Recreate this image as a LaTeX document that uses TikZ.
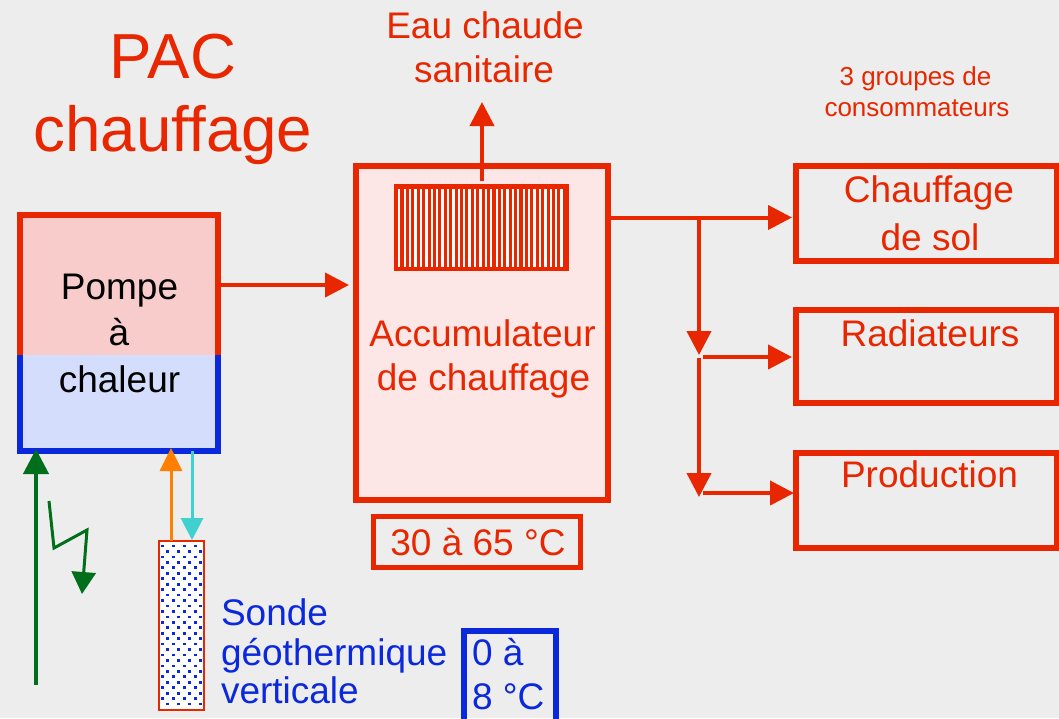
\documentclass[tikz,border=0pt]{standalone}
\usepackage{fontspec}
\setmainfont{Liberation Sans}
\usetikzlibrary{arrows.meta,fit}
\definecolor{pacred}{RGB}{232,38,0}
\definecolor{bgray}{RGB}{237,237,237}
\definecolor{pinkA}{RGB}{249,204,204}
\definecolor{blueA}{RGB}{212,222,252}
\definecolor{pacblue}{RGB}{10,40,220}
\definecolor{accpink}{RGB}{252,230,230}
\definecolor{pacgreen}{RGB}{0,110,26}
\definecolor{pacorange}{RGB}{255,127,0}
\definecolor{paccyan}{RGB}{64,208,208}
\tikzset{
  txt/.style={font=\fontsize{27.75}{33}\selectfont, inner sep=0pt, outer sep=0pt, anchor=base},
  redtxt/.style={txt, text=pacred},
  bluetxt/.style={txt, text=pacblue, anchor=base west},
  smalltxt/.style={font=\fontsize{19.5}{23}\selectfont, inner sep=0pt, outer sep=0pt, anchor=base, text=pacred},
  titletxt/.style={font=\fontsize{47.75}{52}\selectfont, inner sep=0pt, outer sep=0pt, anchor=base, text=pacred},
  boxarea/.style={inner sep=0pt, outer sep=0pt},
  redbox/.style={boxarea, draw=pacred, line width=4.5pt},
  arr/.style={draw=pacred, line width=3pt, -{Triangle[length=18pt,width=18pt]}},
  greenarr/.style={draw=pacgreen, line width=3pt, -{Triangle[length=18.75pt,width=18.75pt]}},
  zigarr/.style={draw=pacgreen, line width=2.25pt, -{Triangle[length=16.5pt,width=18pt]}},
  orangearr/.style={draw=pacorange, line width=2.25pt, -{Triangle[length=17.25pt,width=16.5pt]}},
  cyanarr/.style={draw=paccyan, line width=2.25pt, -{Triangle[length=16.5pt,width=16.5pt]}},
}
\begin{document}
\begin{tikzpicture}[x=0.75pt,y=-0.75pt]
\useasboundingbox (0,0) rectangle (1059,718);
\fill[bgray] (0,0) rectangle (1059,718);
\clip (0,0) rectangle (1059,718);

% title
\node[titletxt] (t1) at (173,78) {PAC};
\node[titletxt] (t2) at (173,151) {chauffage};

% heat pump
\fill[pinkA] (19.5,214.5) rectangle (218,355);
\fill[blueA] (19.5,355) rectangle (218,451);
\draw[pacred, line width=4.5pt] (19.5,355) -- (19.5,214.5) -- (218,214.5) -- (218,355);
\draw[pacblue, line width=4.5pt] (19.5,355) -- (19.5,451) -- (218,451) -- (218,355);
\node[boxarea, fit={(19.5,214.5)(218,451)}] (pump) {};
\node[txt] (p1) at (119.5,299) {Pompe};
\node[txt] (p2) at (119,345) {à};
\node[txt] (p3) at (119.5,392) {chaleur};

% accumulator
\node[redbox, fill=accpink, fit={(356,166)(608,500)}] (acc) {};
\fill[pacred] (394,184) rectangle (569,271);
\foreach \i in {0,...,30}{
  \fill[white] ({399.3+5.41*\i-1.15},189) rectangle ++(2.3,78);
}
\node[boxarea, fit={(394,184)(569,271)}] (hx) {};
\node[redtxt] (a1) at (482.5,346) {Accumulateur};
\node[redtxt] (a2) at (483.5,390) {de chauffage};

% hot water
\node[redtxt] (e1) at (485,38) {Eau chaude};
\node[redtxt] (e2) at (484,82) {sanitaire};
\coordinate (ecstip) at (482,102);
\draw[arr] (hx.north -| ecstip) ++(0,-3) -- (ecstip);

% temperature box
\node[boxarea, draw=pacred, line width=3.75pt, fit={(373.5,516.5)(580.5,567.5)}] (tacc) {};
\node[redtxt] (tt) at (478,555) {30 à 65 °C};

% pump -> accumulator
\draw[arr, shorten >=5.25pt] (pump.east |- 0,285) -- (acc.west |- 0,285);

% consumers
\node[smalltxt] (c1) at (915.5,85) {3 groupes de};
\node[smalltxt] (c2) at (917,116) {consommateurs};
\node[redbox, fit={(796,165.5)(1057,261)}] (cds) {};
\node[redtxt] (cd1) at (929,202) {Chauffage};
\node[redtxt] (cd2) at (930,250) {de sol};
\node[redbox, fit={(796,310)(1057,403)}] (rad) {};
\node[redtxt] (r1) at (930,346) {Radiateurs};
\node[redbox, fit={(796,452.5)(1057,547.5)}] (prod) {};
\node[redtxt] (pr1) at (929.5,487) {Production};

\coordinate (b1) at (699,217.5);
\coordinate (b2) at (699,357);
\coordinate (b3) at (699,497);
\coordinate (b4) at (703,493);
\draw[arr, shorten >=3pt] (acc.east |- b1) -- (cds.west |- b1);
\draw[arr, shorten >=1.5pt] (b1) -- (b2);
\draw[arr, shorten >=3pt] ([xshift=3pt]b2) -- (rad.west |- b2);
\draw[arr] ([yshift=-1pt]b2) -- (b3);
\draw[arr, shorten >=1.5pt] (b4) -- (prod.west |- b4);

% probe
\node[boxarea, fill=white, fit={(159,541)(204,710)}] (probe) {};
\begin{scope}
\clip (159,541) rectangle (204,710);
\foreach \i in {0,...,29}{
  \foreach \j in {0,...,3}{
    \fill[pacblue] ({162.3+5.5*mod(\i,2)+11*\j-1.35},{546+5.45*\i-1.35}) rectangle ++(2.7,2.7);
  }
}
\end{scope}
\draw[pacred, line width=1.5pt] (probe.north west) rectangle (probe.south east);

\coordinate (og) at (171,0);
\coordinate (cy) at (192,0);
\draw[orangearr, shorten >=-2.25pt] (probe.north -| og) -- (pump.south -| og);
\draw[cyanarr, shorten >=0.75pt] (pump.south -| cy) -- (probe.north -| cy);

% green ground arrows
\coordinate (g0) at (36,685);
\draw[greenarr, shorten >=-1.5pt] (g0) -- (g0 |- pump.south);
\coordinate (z0) at (49,501);
\coordinate (z3) at (82,594);
\draw[zigarr] (z0) -- (54,548) -- (87,530) -- (z3);

% probe label
\node[bluetxt] (s1) at (221,625) {Sonde};
\node[bluetxt] (s2) at (221,665) {géothermique};
\node[bluetxt] (s3) at (221,703) {verticale};
\node[boxarea, draw=pacblue, line width=4.5pt, fit={(464,630.5)(555.5,726)}] (tprobe) {};
\node[bluetxt] (tp1) at (472,665) {0 à};
\node[bluetxt] (tp2) at (472,709) {8 °C};
\end{tikzpicture}
\end{document}
